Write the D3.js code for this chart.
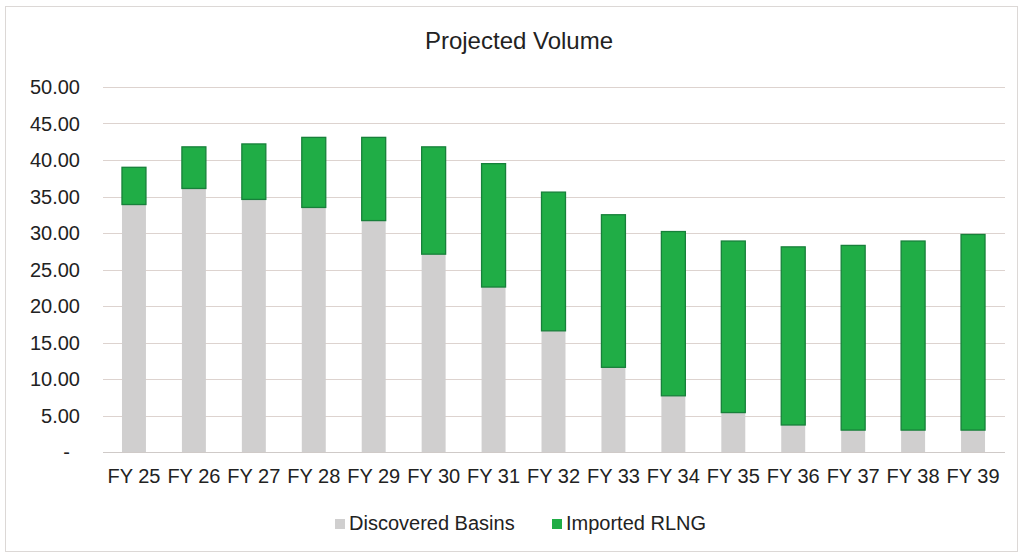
<!DOCTYPE html>
<html lang="en">
<head>
    <meta charset="UTF-8" />
    <script src="https://d3js.org/d3.v7.min.js"></script>
    <title>Projected Volume</title>
    <style>
        body { margin: 0; background: #fff; }
        text { font-family: "Liberation Sans", Arial, sans-serif; fill: #222; }
    </style>
</head>
<body>
    <script>
        // values
        var categories = ["FY 25", "FY 26", "FY 27", "FY 28", "FY 29", "FY 30", "FY 31", "FY 32",
            "FY 33", "FY 34", "FY 35", "FY 36", "FY 37", "FY 38", "FY 39"];
        var discovered = [33.9, 36.1, 34.6, 33.5, 31.7, 27.1, 22.6, 16.6, 11.6, 7.7, 5.4, 3.7, 3.0, 3.0, 3.0];
        var imported = [5.1, 5.7, 7.6, 9.6, 11.4, 14.7, 16.9, 19.0, 20.9, 22.5, 23.5, 24.4, 25.3, 25.9, 26.8];
        var yTicks = [0, 5, 10, 15, 20, 25, 30, 35, 40, 45, 50];
        var seriesNames = ["Discovered Basins", "Imported RLNG"];

        var width = 1020, height = 557;
        var margin = { left: 104, right: 17, top: 87, bottom: 105 };

        var rows = categories.map(function (c, i) {
            return { cat: c, "Discovered Basins": discovered[i], "Imported RLNG": imported[i] };
        });

        var svg = d3.select("body").append("svg")
            .attr("width", width)
            .attr("height", height);

        // outer chart border
        svg.append("rect")
            .attr("x", 5.5).attr("y", 6.5)
            .attr("width", 1012).attr("height", 545)
            .attr("fill", "#fff").attr("stroke", "#dcd8d6");

        var x = d3.scaleBand().domain(categories)
            .range([margin.left, width - margin.right])
            .paddingInner(0.6).paddingOuter(0.3);

        var y = d3.scaleLinear().domain([0, 50])
            .range([height - margin.bottom, margin.top]);

        var color = d3.scaleOrdinal().domain(seriesNames).range(["#d0cfcf", "#20ad46"]);

        // gridlines
        svg.append("g").selectAll("line").data(yTicks.slice(1)).enter().append("line")
            .attr("x1", margin.left - 1).attr("x2", width - margin.right + 2)
            .attr("y1", function (d) { return Math.round(y(d)) + 0.5; })
            .attr("y2", function (d) { return Math.round(y(d)) + 0.5; })
            .attr("stroke", "#ddd3cf").attr("stroke-width", 1.2);

        // y labels
        svg.append("g").selectAll("text").data(yTicks).enter().append("text")
            .attr("x", function (d) { return d === 0 ? 70 : 80; })
            .attr("y", function (d) { return y(d) + 7; })
            .attr("text-anchor", "end")
            .style("font-size", "20px")
            .text(function (d) { return d === 0 ? "-" : d3.format(".2f")(d); });

        // stacked bars
        var stacked = d3.stack().keys(seriesNames)(rows);
        svg.append("g").selectAll("g").data(stacked).enter().append("g")
            .attr("fill", function (d) { return color(d.key); })
            .attr("stroke", function (d) { return d.key === "Imported RLNG" ? "#17803a" : "none"; })
            .attr("stroke-width", 1.3)
            .selectAll("rect").data(function (d) { return d; }).enter().append("rect")
            .attr("x", function (d) { return x(d.data.cat); })
            .attr("width", x.bandwidth())
            .attr("y", function (d) { return y(d[1]); })
            .attr("height", function (d) { return y(d[0]) - y(d[1]); });

        // baseline
        svg.append("line")
            .attr("x1", margin.left - 1).attr("x2", width - margin.right + 2)
            .attr("y1", y(0) + 0.5).attr("y2", y(0) + 0.5)
            .attr("stroke", "#cfcac8").attr("stroke-width", 1.2);

        // x labels
        svg.append("g").selectAll("text").data(categories).enter().append("text")
            .attr("x", function (d) { return x(d) + x.bandwidth() / 2; })
            .attr("y", 483)
            .attr("text-anchor", "middle")
            .style("font-size", "20px")
            .text(function (d) { return d; });

        // title
        svg.append("text")
            .attr("x", 519).attr("y", 49)
            .attr("text-anchor", "middle")
            .style("font-size", "24px")
            .text("Projected Volume");

        // legend
        var legendX = [335, 552];
        var legend = svg.append("g").selectAll("g").data(seriesNames).enter().append("g")
            .attr("transform", function (d, i) { return "translate(" + legendX[i] + ",519)"; });
        legend.append("rect")
            .attr("width", 10).attr("height", 10)
            .attr("fill", function (d) { return color(d); });
        legend.append("text")
            .attr("x", 14).attr("y", 11)
            .style("font-size", "20px")
            .text(function (d) { return d; });
    </script>
</body>
</html>
